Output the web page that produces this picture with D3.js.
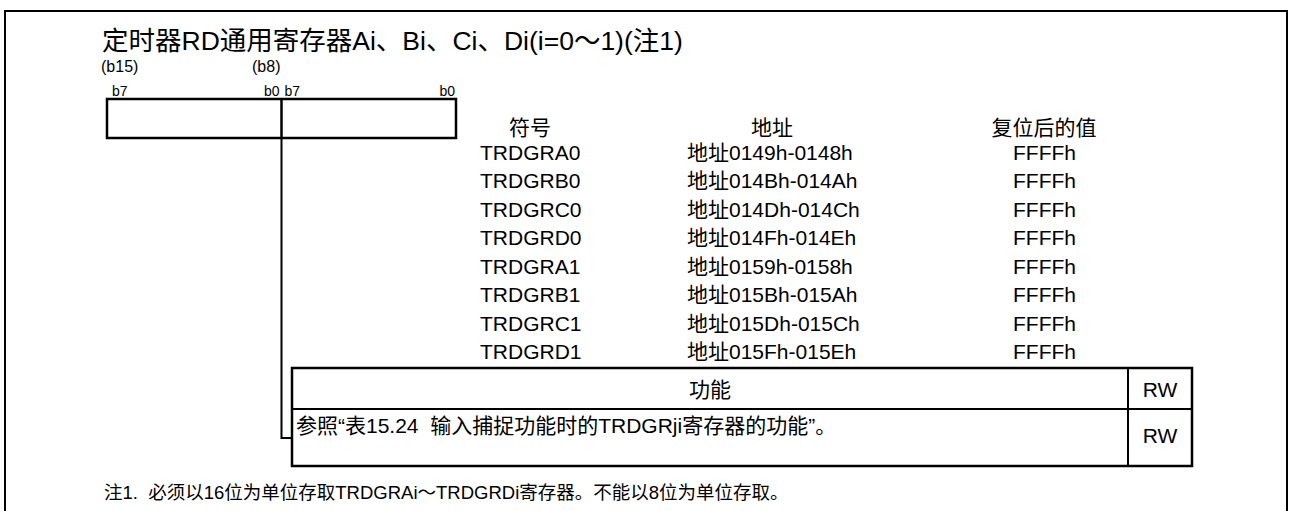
<!DOCTYPE html>
<html><head><meta charset="utf-8">
<script src="https://cdn.jsdelivr.net/npm/d3@7/dist/d3.min.js"></script>
<style>
html,body{margin:0;padding:0;background:#fff;}
svg text{font-family:"Liberation Sans","Noto Sans CJK SC",sans-serif;fill:#000;white-space:pre;}
</style></head>
<body><svg id="c" width="1289" height="511"></svg>
<script>
const title = "定时器RD通用寄存器Ai、Bi、Ci、Di(i=0～1)(注1)";
const bitLabelsTop = ["(b15)", "(b8)"];
const bitLabels = ["b7", "b0", "b7", "b0"];
const headers = ["符号", "地址", "复位后的值"];
const symbols = ["TRDGRA0","TRDGRB0","TRDGRC0","TRDGRD0","TRDGRA1","TRDGRB1","TRDGRC1","TRDGRD1"];
const addresses = ["地址0149h-0148h","地址014Bh-014Ah","地址014Dh-014Ch","地址014Fh-014Eh","地址0159h-0158h","地址015Bh-015Ah","地址015Dh-015Ch","地址015Fh-015Eh"];
const resetValues = ["FFFFh","FFFFh","FFFFh","FFFFh","FFFFh","FFFFh","FFFFh","FFFFh"];
const funcHeader = "功能";
const funcText = "参照“表15.24  输入捕捉功能时的TRDGRji寄存器的功能”。";
const rwLabels = ["RW", "RW"];
const note = "注1.  必须以16位为单位存取TRDGRAi～TRDGRDi寄存器。不能以8位为单位存取。";

const svg = d3.select("#c");

// outer frame
svg.append("rect").attr("x",5).attr("y",11).attr("width",1282).attr("height",560)
  .attr("fill","none").attr("stroke","#000").attr("stroke-width",2);

svg.append("text").attr("x",102).attr("y",50).attr("font-size",26.5).text(title);

// bit scale for register box
const xBit = d3.scaleLinear().domain([15, -1]).range([107, 456]);
const xMid = xBit(7);
svg.selectAll(".bt").data(bitLabelsTop).join("text")
  .attr("x",(d,i)=> i===0 ? 101 : 252).attr("y",72).attr("font-size",16).text(d=>d);
svg.selectAll(".bl").data(bitLabels).join("text")
  .attr("x",(d,i)=> [112, xMid-2, xMid+3, 455][i])
  .attr("text-anchor",(d,i)=> (i%2===1) ? "end" : "start")
  .attr("y",96).attr("font-size",14).text(d=>d);

svg.append("rect").attr("x",xBit(15)).attr("y",99).attr("width",xBit(-1)-xBit(15)).attr("height",39)
  .attr("fill","none").attr("stroke","#000").attr("stroke-width",2.5);
svg.append("line").attr("x1",xMid).attr("x2",xMid).attr("y1",99).attr("y2",138)
  .attr("stroke","#000").attr("stroke-width",2.5);
svg.append("path").attr("d",`M${xMid},138 V438 H292`).attr("fill","none")
  .attr("stroke","#000").attr("stroke-width",2);

// symbol table
const colX = [530, 772, 1044];
svg.selectAll(".hd").data(headers).join("text")
  .attr("x",(d,i)=>colX[i]).attr("y",135).attr("text-anchor","middle").attr("font-size",21).text(d=>d);
const yRow = d3.scalePoint().domain(symbols).range([160, 359]);
svg.selectAll(".sym").data(symbols).join("text")
  .attr("x",480).attr("y",d=>yRow(d)).attr("font-size",21).text(d=>d);
svg.selectAll(".adr").data(addresses).join("text")
  .attr("x",687).attr("y",(d,i)=>yRow(symbols[i])).attr("font-size",21).text(d=>d);
svg.selectAll(".rv").data(resetValues).join("text")
  .attr("x",1013).attr("y",(d,i)=>yRow(symbols[i])).attr("font-size",21).text(d=>d);

// function table
const tL = 292, tR = 1192, tT = 368, tM = 409, tB = 466, tC = 1128;
svg.append("rect").attr("x",tL).attr("y",tT).attr("width",tR-tL).attr("height",tB-tT)
  .attr("fill","none").attr("stroke","#000").attr("stroke-width",2.5);
svg.append("line").attr("x1",tL).attr("x2",tR).attr("y1",tM).attr("y2",tM).attr("stroke","#000").attr("stroke-width",2);
svg.append("line").attr("x1",tC).attr("x2",tC).attr("y1",tT).attr("y2",tB).attr("stroke","#000").attr("stroke-width",2);
svg.append("text").attr("x",(tL+tC)/2).attr("y",397).attr("text-anchor","middle").attr("font-size",21).text(funcHeader);
svg.selectAll(".rw").data(rwLabels).join("text")
  .attr("x",(tC+tR)/2).attr("y",(d,i)=>[397,443][i]).attr("text-anchor","middle").attr("font-size",21).text(d=>d);
svg.append("text").attr("x",296).attr("y",433).attr("font-size",21).text(funcText);

svg.append("text").attr("x",104).attr("y",499).attr("font-size",18.5).text(note);
</script></body></html>
